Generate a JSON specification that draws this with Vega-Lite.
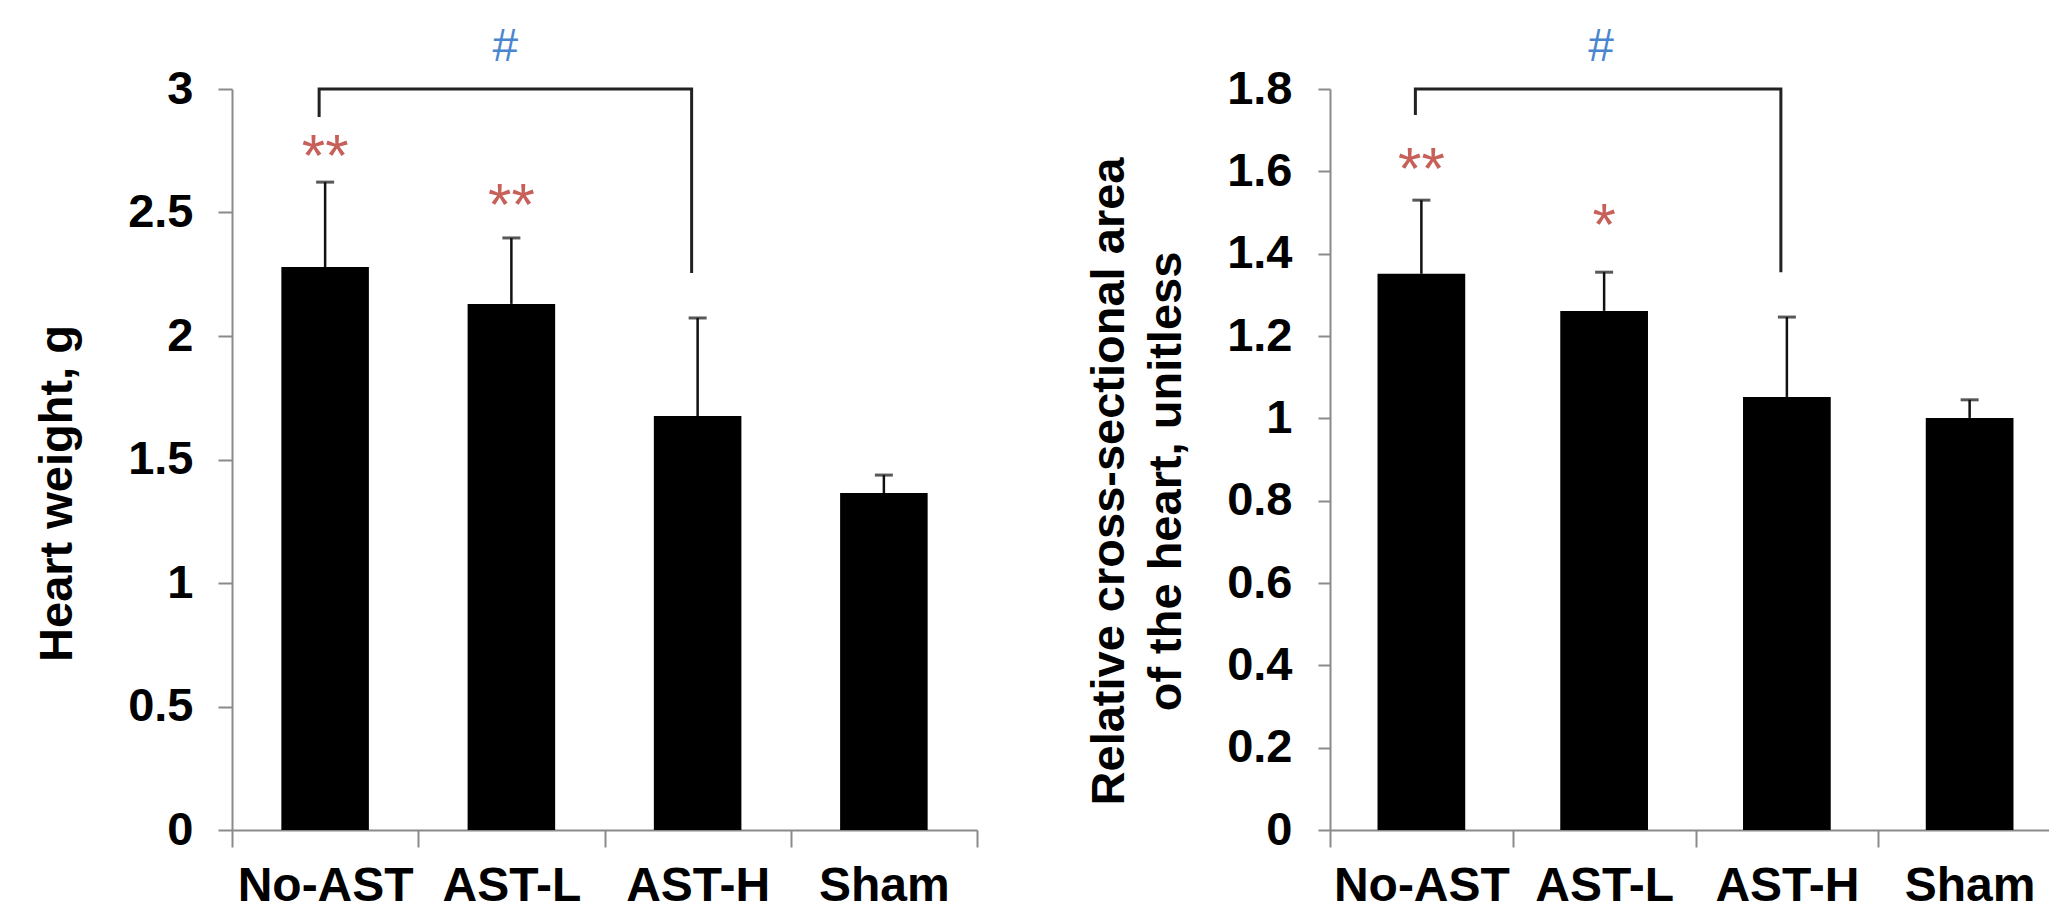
{
  "$schema": "https://vega.github.io/schema/vega-lite/v6.json",
  "background": "white",
  "padding": {"left": 33, "top": 24, "right": 0, "bottom": 0},
  "spacing": 353,
  "bounds": "flush",
  "config": {
    "view": {"stroke": null},
    "font": "Liberation Sans",
    "axis": {
      "labelFont": "Liberation Sans", "labelFontWeight": "bold", "labelFontSize": 47, "labelColor": "#000000",
      "titleFont": "Liberation Sans", "titleFontWeight": "bold", "titleFontSize": 47, "titleColor": "#000000",
      "domainColor": "#8a8a8a", "domainWidth": 2, "tickColor": "#8a8a8a", "tickWidth": 2, "grid": false
    }
  },
  "datasets": {
    "hw": [
      {"group": "No-AST", "mean": 2.279, "upper": 2.623},
      {"group": "AST-L", "mean": 2.13, "upper": 2.397},
      {"group": "AST-H", "mean": 1.676, "upper": 2.073},
      {"group": "Sham", "mean": 1.364, "upper": 1.437}
    ],
    "hwBracket": [
      {"group": "No-AST", "y": 2.887, "k": 1},
      {"group": "No-AST", "y": 3.0, "k": 2},
      {"group": "AST-H", "y": 3.0, "k": 3},
      {"group": "AST-H", "y": 2.255, "k": 4}
    ],
    "hwStars": [
      {"group": "No-AST", "y": 2.72, "label": "**"},
      {"group": "AST-L", "y": 2.524, "label": "**"}
    ],
    "hwHash": [
      {"group": "AST-L", "y": 3.17, "label": "#"}
    ],
    "csa": [
      {"group": "No-AST", "mean": 1.351, "upper": 1.53},
      {"group": "AST-L", "mean": 1.261, "upper": 1.355},
      {"group": "AST-H", "mean": 1.052, "upper": 1.246},
      {"group": "Sham", "mean": 1.001, "upper": 1.045}
    ],
    "csaBracket": [
      {"group": "No-AST", "y": 1.737, "k": 1},
      {"group": "No-AST", "y": 1.8, "k": 2},
      {"group": "AST-H", "y": 1.8, "k": 3},
      {"group": "AST-H", "y": 1.355, "k": 4}
    ],
    "csaStars": [
      {"group": "No-AST", "y": 1.6, "label": "**"},
      {"group": "AST-L", "y": 1.464, "label": "*"}
    ],
    "csaHash": [
      {"group": "AST-L", "y": 1.902, "label": "#"}
    ]
  },
  "hconcat": [
    {
      "width": 745,
      "height": 741,
      "layer": [
        {
          "data": {"name": "hw"},
          "mark": {"type": "bar", "color": "#000000", "width": {"band": 0.47}},
          "encoding": {
            "x": {"field": "group", "type": "nominal", "sort": null,
              "scale": {"domain": ["No-AST", "AST-L", "AST-H", "Sham"], "paddingInner": 0, "paddingOuter": 0},
              "axis": {"title": null, "labelAngle": 0, "tickBand": "extent", "tickSize": 17, "labelPadding": 15, "labelBaseline": "top", "labelFontSize": 48}},
            "y": {"field": "mean", "type": "quantitative",
              "scale": {"domain": [0, 3], "nice": false, "zero": true},
              "axis": {"title": "Heart weight, g", "titleY": 404, "values": [0, 0.5, 1, 1.5, 2, 2.5, 3], "format": "~g", "tickSize": 14, "labelPadding": 25, "titlePadding": 46}}
          }
        },
        {
          "data": {"name": "hw"},
          "mark": {"type": "rule", "color": "#111111", "strokeWidth": 2.5},
          "encoding": {
            "x": {"field": "group", "type": "nominal", "sort": null},
            "y": {"field": "mean", "type": "quantitative"},
            "y2": {"field": "upper"}
          }
        },
        {
          "data": {"name": "hw"},
          "mark": {"type": "tick", "color": "#111111", "size": 18, "thickness": 3},
          "encoding": {
            "x": {"field": "group", "type": "nominal", "sort": null},
            "y": {"field": "upper", "type": "quantitative"}
          }
        },
        {
          "data": {"name": "hwBracket"},
          "mark": {"type": "line", "color": "#222222", "strokeWidth": 3, "xOffset": -6, "strokeJoin": "miter"},
          "encoding": {
            "x": {"field": "group", "type": "nominal", "sort": null},
            "y": {"field": "y", "type": "quantitative"},
            "order": {"field": "k", "type": "quantitative"}
          }
        },
        {
          "data": {"name": "hwStars"},
          "mark": {"type": "text", "color": "#C8605A", "fontSize": 60, "font": "Liberation Sans", "baseline": "middle"},
          "encoding": {
            "x": {"field": "group", "type": "nominal", "sort": null},
            "y": {"field": "y", "type": "quantitative"},
            "text": {"field": "label"}
          }
        },
        {
          "data": {"name": "hwHash"},
          "mark": {"type": "text", "color": "#4A86D0", "fontSize": 46, "font": "Liberation Sans", "baseline": "middle", "xOffset": -6},
          "encoding": {
            "x": {"field": "group", "type": "nominal", "sort": null},
            "y": {"field": "y", "type": "quantitative"},
            "text": {"field": "label"}
          }
        }
      ]
    },
    {
      "width": 731,
      "height": 741,
      "layer": [
        {
          "data": {"name": "csa"},
          "mark": {"type": "bar", "color": "#000000", "width": {"band": 0.48}},
          "encoding": {
            "x": {"field": "group", "type": "nominal", "sort": null,
              "scale": {"domain": ["No-AST", "AST-L", "AST-H", "Sham"], "paddingInner": 0, "paddingOuter": 0},
              "axis": {"title": null, "labelAngle": 0, "tickBand": "extent", "tickSize": 17, "labelPadding": 15, "labelBaseline": "top", "labelFontSize": 48}},
            "y": {"field": "mean", "type": "quantitative",
              "scale": {"domain": [0, 1.8], "nice": false, "zero": true},
              "axis": {"title": ["Relative cross-sectional area", "of the heart, unitless"], "titleY": 392, "titleLineHeight": 57, "values": [0, 0.2, 0.4, 0.6, 0.8, 1, 1.2, 1.4, 1.6, 1.8], "format": "~g", "tickSize": 12, "labelPadding": 26, "titlePadding": 36}}
          }
        },
        {
          "data": {"name": "csa"},
          "mark": {"type": "rule", "color": "#111111", "strokeWidth": 2.5},
          "encoding": {
            "x": {"field": "group", "type": "nominal", "sort": null},
            "y": {"field": "mean", "type": "quantitative"},
            "y2": {"field": "upper"}
          }
        },
        {
          "data": {"name": "csa"},
          "mark": {"type": "tick", "color": "#111111", "size": 18, "thickness": 3},
          "encoding": {
            "x": {"field": "group", "type": "nominal", "sort": null},
            "y": {"field": "upper", "type": "quantitative"}
          }
        },
        {
          "data": {"name": "csaBracket"},
          "mark": {"type": "line", "color": "#222222", "strokeWidth": 3, "xOffset": -6, "strokeJoin": "miter"},
          "encoding": {
            "x": {"field": "group", "type": "nominal", "sort": null},
            "y": {"field": "y", "type": "quantitative"},
            "order": {"field": "k", "type": "quantitative"}
          }
        },
        {
          "data": {"name": "csaStars"},
          "mark": {"type": "text", "color": "#C8605A", "fontSize": 60, "font": "Liberation Sans", "baseline": "middle"},
          "encoding": {
            "x": {"field": "group", "type": "nominal", "sort": null},
            "y": {"field": "y", "type": "quantitative"},
            "text": {"field": "label"}
          }
        },
        {
          "data": {"name": "csaHash"},
          "mark": {"type": "text", "color": "#4A86D0", "fontSize": 46, "font": "Liberation Sans", "baseline": "middle", "xOffset": -3},
          "encoding": {
            "x": {"field": "group", "type": "nominal", "sort": null},
            "y": {"field": "y", "type": "quantitative"},
            "text": {"field": "label"}
          }
        }
      ]
    }
  ]
}
